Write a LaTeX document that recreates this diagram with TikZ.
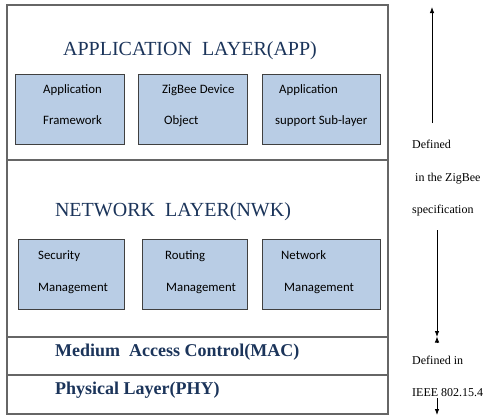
\documentclass[tikz,border=0pt]{standalone}
\usepackage{fontspec}
\setmainfont{Liberation Serif}
\newfontfamily\boxfont{Carlito}
\usetikzlibrary{arrows.meta}
\definecolor{titleblue}{HTML}{1B345A}
\definecolor{subfill}{HTML}{B9CDE5}
\definecolor{subdraw}{HTML}{404040}
\definecolor{framegray}{HTML}{666666}
\tikzset{
  frame/.style={draw=framegray, line width=1.1pt},
  subbox/.style={draw=subdraw, fill=subfill, line width=0.9pt, inner sep=0pt},
  title/.style={anchor=base, inner sep=0pt, text=titleblue, font=\fontsize{20}{24}\selectfont},
  lowtitle/.style={anchor=base west, inner sep=0pt, text=titleblue, font=\fontsize{18}{22}\selectfont\bfseries},
  boxtext/.style={anchor=base west, inner sep=0pt, font=\boxfont\fontsize{12.8}{15}\selectfont},
  sidetext/.style={anchor=base west, inner sep=0pt, font=\fontsize{12}{14}\selectfont},
  arr/.style={draw=black, line width=0.8pt, -{Latex[length=6pt,width=4.5pt]}}
}
\begin{document}
\begin{tikzpicture}[x=1pt,y=-1pt]
\useasboundingbox (0,0) rectangle (495,416);
% frame
\draw[frame] (7,5) rectangle (388,414);
\draw[frame] (7,160) -- (388,160);
\draw[frame] (7,337) -- (388,337);
\draw[frame] (7,375) -- (388,375);
% application layer
\node[title] (apptitle) at (190,55) {APPLICATION\ \ LAYER(APP)};
\node[subbox, minimum width=109pt, minimum height=70pt] (af) at (69.5,109) {};
\node[subbox, minimum width=109pt, minimum height=70pt] (zdo) at (192.5,109) {};
\node[subbox, minimum width=118pt, minimum height=70pt] (aps) at (321,109) {};
\node[boxtext] (af1) at (43,93) {Application};
\node[boxtext] (af2) at (43,124) {Framework};
\node[boxtext] (zdo1) at (162,93) {ZigBee Device};
\node[boxtext] (zdo2) at (164,124) {Object};
\node[boxtext] (aps1) at (279,93) {Application};
\node[boxtext] (aps2) at (275,124) {support Sub-layer};
% network layer
\node[title] (nwktitle) at (173,216) {NETWORK\ \ LAYER(NWK)};
\node[subbox, minimum width=106pt, minimum height=70pt] (sm) at (71,274) {};
\node[subbox, minimum width=105pt, minimum height=70pt] (rm) at (194.5,274) {};
\node[subbox, minimum width=118pt, minimum height=70pt] (nm) at (321,274) {};
\node[boxtext] (sm1) at (38,259) {Security};
\node[boxtext] (sm2) at (38,291) {Management};
\node[boxtext] (rm1) at (165,259) {Routing};
\node[boxtext] (rm2) at (166,291) {Management};
\node[boxtext] (nm1) at (281,259) {Network};
\node[boxtext] (nm2) at (284,291) {Management};
% MAC / PHY
\node[lowtitle] (mac) at (55,356) {Medium\ \ Access Control(MAC)};
\node[lowtitle] (phy) at (55,394) {Physical Layer(PHY)};
% right side
\node[sidetext] (d1) at (412,148.5) {Defined};
\node[sidetext] (d2) at (412,181.5) {\ in the ZigBee};
\node[sidetext] (d3) at (412,213.5) {specification};
\node[sidetext] (d4) at (412,364.5) {Defined in};
\node[sidetext] (d5) at (412,396) {IEEE 802.15.4};
\coordinate (u1s) at (432,123);
\coordinate (u1e) at (432,7);
\coordinate (d1s) at (437,230);
\coordinate (d1e) at (437,337);
\coordinate (u2s) at (437,343);
\coordinate (u2e) at (437,336.5);
\coordinate (d2s) at (437,398);
\coordinate (d2e) at (437,415);
\draw[arr] (u1s) -- (u1e);
\draw[arr] (d1s) -- (d1e);
\draw[arr] (u2s) -- (u2e);
\draw[arr] (d2s) -- (d2e);
\end{tikzpicture}
\end{document}
